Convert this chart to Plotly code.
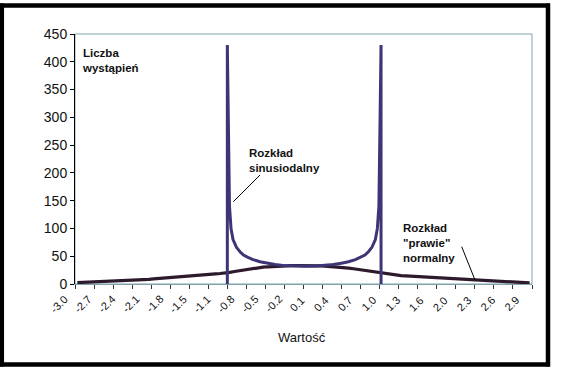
import plotly.graph_objects as go

# ---------------- data ----------------
bin_start = -3.0
bin_width = 0.062
n_bins = 96
categories = [round(bin_start + bin_width * i, 3) for i in range(n_bins)]

x_tick_labels = ["-3.0", "-2.7", "-2.4", "-2.1", "-1.8", "-1.5", "-1.1", "-0.8", "-0.5", "-0.2",
                 "0.1", "0.4", "0.7", "1.0", "1.3", "1.6", "2.0", "2.3", "2.6", "2.9"]

normal_vals = [2.5, 2.8, 3.1, 3.4, 3.8, 4.1, 4.5, 4.9, 5.3, 5.7,
               6.1, 6.5, 7.0, 7.5, 8.0, 8.5, 9.1, 9.7, 10.3, 11.0,
               11.7, 12.5, 13.2, 13.9, 14.6, 15.4, 16.1, 16.8, 17.5, 18.2,
               18.9, 19.6, 21.0, 22.5, 24.0, 25.5, 27.0, 28.2, 29.3, 30.3,
               31.0, 31.7, 32.2, 32.6, 32.9, 33.1, 33.2, 33.3, 33.2, 33.1,
               32.9, 32.6, 32.2, 31.7, 31.2, 30.6, 29.7, 28.7, 27.5, 26.2,
               24.8, 23.3, 21.8, 20.5, 19.4, 18.3, 17.0, 16.0, 15.0, 14.5,
               14.0, 13.4, 12.8, 12.3, 11.8, 11.3, 10.8, 10.2, 9.7, 9.1,
               8.5, 7.9, 7.3, 6.8, 6.2, 5.7, 5.2, 4.7, 4.3, 3.9,
               3.5, 3.1, 2.8, 2.5, 2.2, 2.0]

sinus_x = [-1.047, -1.047, -1.019, -0.999, -0.973, -0.928, -0.882, -0.837, -0.778, -0.713,
           -0.622, -0.530, -0.426, -0.322, -0.205, -0.062, -0.030, 0.113, 0.230, 0.334,
           0.438, 0.530, 0.621, 0.686, 0.745, 0.790, 0.836, 0.881, 0.907, 0.927,
           0.955, 0.955]
sinus_y = [0, 430, 140, 100, 80, 66, 58, 52, 48, 44,
           40, 37.5, 35, 33.5, 32.5, 32, 32, 32.5, 33.5, 35,
           37.5, 40, 44, 48, 52, 58, 66, 80, 100, 140,
           430, 0]

# ---------------- layout geometry ----------------
W, H = 565, 380
L, R, T, B = 75, 532, 34, 284
PW, PH = R - L, B - T


def px(xp):
    return (xp - L) / PW


def py(yp):
    return (B - yp) / PH


FONT = "Arial, 'Liberation Sans', sans-serif"
TEAL = "#7FA3A8"
PURPLE = "#3D3575"
DARK = "#2D1A2D"

half = bin_width / 2
x_range = [categories[0] - half, categories[-1] + half]
minor_vals = [categories[0] - half + 4 * bin_width * j for j in range(n_bins // 4 + 1)]
label_cats = categories[::5]

fig = go.Figure()
fig.add_trace(go.Scatter(x=categories, y=normal_vals, mode="lines",
                         line=dict(color=DARK, width=3.2), hoverinfo="skip"))
fig.add_trace(go.Scatter(x=sinus_x, y=sinus_y, mode="lines",
                         line=dict(color=PURPLE, width=3), hoverinfo="skip"))

fig.update_layout(
    width=W, height=H,
    margin=dict(l=L, r=W - R, t=T, b=H - B, pad=0),
    paper_bgcolor="white", plot_bgcolor="white",
    showlegend=False,
    font=dict(family=FONT, color="#111111"),
)

fig.update_xaxes(
    range=x_range, showgrid=False, zeroline=False,
    showline=True, linecolor=TEAL, linewidth=1,
    tickmode="array", tickvals=minor_vals, ticktext=[""] * len(minor_vals),
    ticks="outside", ticklen=4, tickcolor="#333333", tickwidth=1,
)
fig.update_yaxes(
    range=[0, 450], dtick=50, tick0=0, showgrid=False, zeroline=False,
    showline=True, linecolor="black", linewidth=1,
    ticks="outside", ticklen=4, tickcolor="black",
    tickfont=dict(size=14, color="#111111"),
)

FW = 4.5
shapes = [
    dict(type="rect", xref="paper", yref="paper", x0=0, y0=0, x1=1, y1=1,
         line=dict(color=TEAL, width=1), layer="below"),
    # outer frame as four lines
    dict(type="line", xref="paper", yref="paper", x0=px(0), y0=py(5.5), x1=px(550), y1=py(5.5),
         line=dict(color="black", width=FW)),
    dict(type="line", xref="paper", yref="paper", x0=px(0), y0=py(364.5), x1=px(550), y1=py(364.5),
         line=dict(color="black", width=FW)),
    dict(type="line", xref="paper", yref="paper", x0=px(1.8), y0=py(3.5), x1=px(1.8), y1=py(366.5),
         line=dict(color="black", width=FW)),
    dict(type="line", xref="paper", yref="paper", x0=px(548), y0=py(3.5), x1=px(548), y1=py(366.5),
         line=dict(color="black", width=FW)),
    # leader lines
    dict(type="line", xref="paper", yref="paper",
         x0=px(260), y0=py(175), x1=px(233.3), y1=py(201.7),
         line=dict(color="black", width=1)),
    dict(type="line", xref="paper", yref="paper",
         x0=px(461.7), y0=py(246.7), x1=px(475), y1=py(280),
         line=dict(color="black", width=1)),
]

ann_font = dict(family=FONT, size=11.5, color="#111111")
annotations = [
    dict(text="<b>Liczba<br>wystąpień</b>", x=px(80), y=py(45), xref="paper", yref="paper",
         xanchor="left", yanchor="top", align="left", showarrow=False, font=ann_font),
    dict(text="<b>Rozkład<br>sinusiodalny</b>", x=px(247), y=py(145), xref="paper", yref="paper",
         xanchor="left", yanchor="top", align="left", showarrow=False, font=ann_font),
    dict(text="<b>Rozkład<br>\"prawie\"<br>normalny</b>", x=px(401), y=py(220), xref="paper", yref="paper",
         xanchor="left", yanchor="top", align="left", showarrow=False, font=ann_font),
    dict(text="Wartość", x=px(302), y=py(337), xref="paper", yref="paper",
         xanchor="center", yanchor="middle", showarrow=False,
         font=dict(family=FONT, size=13, color="#111111")),
]
# category labels, rotated like the original axis labels
for cat, lab in zip(label_cats, x_tick_labels):
    annotations.append(dict(text=lab, x=cat, xref="x", xshift=-18.5,
                            y=py(303.5), yref="paper", textangle=-45,
                            xanchor="center", yanchor="middle", showarrow=False,
                            font=dict(family=FONT, size=11, color="#111111")))
fig.update_layout(shapes=shapes, annotations=annotations)

fig.write_html("out.html", config={"displayModeBar": False},
               post_script="document.body.style.margin='0';document.body.style.overflow='hidden';")
